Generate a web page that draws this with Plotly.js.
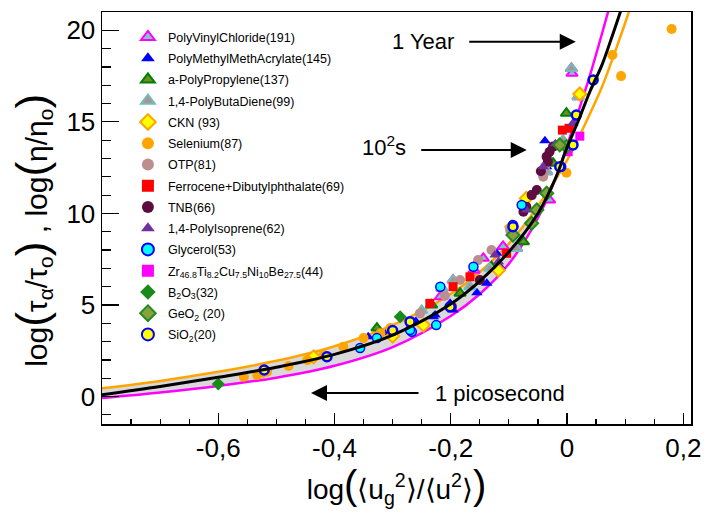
<!DOCTYPE html>
<html>
<head>
<meta charset="utf-8">
<script src="https://cdn.plot.ly/plotly-3.0.1.min.js"></script>
<style>html,body{margin:0;padding:0;background:#fff;}</style>
</head>
<body>
<div id="chart" style="width:705px;height:520px;"></div>
<script>
// ---- tick labels ----
const xTickVals = [-0.6, -0.4, -0.2, 0, 0.2];
const xTickText = ['-0,6', '-0,4', '-0,2', '0', '0,2'];

// ---- fitted curves ----
const blackX = [-0.80,-0.70,-0.60,-0.50,-0.40,-0.30,-0.20,-0.15,-0.10,-0.05,-0.02,0.00,0.02,0.04,0.06,0.08,0.095];
const blackY = [0.10,0.55,1.05,1.60,2.30,3.35,5.05,6.30,7.90,10.0,11.9,13.6,15.1,16.7,18.1,19.9,21.3];
const orangeX = [-0.80,-0.70,-0.60,-0.50,-0.40,-0.30,-0.20,-0.15,-0.10,-0.05,0.00,0.03,0.06,0.08,0.10,0.115];
const orangeY = [0.45,0.85,1.35,1.95,2.75,3.90,5.60,6.80,8.35,10.4,12.9,14.8,16.9,18.6,20.4,21.8];
const magX = [-0.80,-0.70,-0.60,-0.50,-0.40,-0.30,-0.20,-0.15,-0.10,-0.05,-0.02,0.00,0.02,0.04,0.06,0.075];
const magY = [-0.08,0.22,0.58,1.03,1.68,2.70,4.40,5.60,7.25,9.75,11.9,13.7,15.6,17.6,19.8,21.5];
// where the orange and magenta bounds cross (end of the grey band)
const crossX = -0.02;
const crossY = 11.9;

// ---- series ----
const pvcX = [-0.215,-0.196,-0.218,-0.144,-0.087,-0.035,-0.030,0.0075,0.0086,0.019,-0.160,-0.110];
const pvcY = [5.91,6.36,5.45,7.55,8.09,12.28,10.73,17.92,17.65,16.37,6.90,8.20];
const pmmaX = [-0.342,-0.230,-0.196,-0.227,-0.201,-0.155,-0.138,-0.121,-0.115,-0.035,-0.038,-0.310,-0.260];
const pmmaY = [3.27,4.36,4.72,4.45,5.09,5.67,6.18,7.82,7.09,12.55,13.97,3.50,4.10];
const appX = [-0.327,-0.233,-0.184,-0.075,-0.024,-0.0125,-0.001,-0.130];
const appY = [3.74,5.00,5.64,8.45,12.74,13.74,15.47,7.10];
const pbdX = [-0.133,-0.167,-0.007,-0.215,-0.196,-0.087,-0.035,0.0075,0.019,-0.250];
const pbdY = [7.00,6.00,14.00,5.91,6.36,8.09,12.28,17.92,16.37,4.70];
const cknX = [-0.522,-0.436,-0.247,-0.118,-0.095,-0.070,0.022,-0.300];
const cknY = [1.41,2.17,3.90,6.90,9.27,10.82,16.52,3.30];
const seX = [0.180,0.093,0.078,-0.001,-0.556,-0.533,-0.516,-0.479,-0.447,-0.419,-0.385,-0.350,-0.304,-0.321];
const seY = [20.07,17.50,18.65,12.22,1.08,1.17,1.35,1.67,1.99,2.27,2.72,3.19,3.74,3.46];
const otpX = [-0.041,-0.038,-0.035,-0.098,-0.130,-0.153,-0.184,-0.253,-0.210,-0.060];
const otpY = [12.00,12.55,13.10,9.09,8.00,7.45,6.36,4.54,5.50,11.00];
const ferX = [-0.008,0.0035,-0.196,-0.167,-0.104,-0.236];
const ferY = [14.55,14.65,6.00,6.54,7.82,5.09];
const tnbX = [-0.035,-0.030,-0.033,-0.052,-0.061,-0.070,-0.075,-0.150,-0.198,-0.024,-0.045];
const tnbY = [13.10,13.37,12.82,11.28,11.00,10.37,10.09,6.36,4.90,13.65,12.30];
const piX = [-0.041,0.010,-0.070,-0.118,-0.124,-0.020];
const piY = [12.55,14.92,10.19,7.36,7.73,13.80];
const glyX = [-0.078,-0.010,-0.093,-0.161,-0.218,-0.267,-0.356,-0.327,-0.270,-0.225];
const glyY = [10.46,12.55,9.37,7.09,6.00,3.54,2.65,3.19,3.63,3.90];
const zrX = [0.022,0.002];
const zrY = [14.22,13.37];
const b2o3X = [-0.600,-0.287];
const b2o3Y = [0.68,4.36];
const geoX = [-0.035,-0.052,-0.061,-0.093,-0.001,-0.0125];
const geoY = [11.10,10.19,9.46,8.82,13.65,13.74];
const sioX = [0.045,0.016,0.0103,-0.0125,-0.093,-0.201,-0.270,-0.413,-0.521,-0.300];
const sioY = [17.29,15.37,13.74,12.55,9.27,4.90,4.09,2.17,1.45,3.60];

const names = [
  'PolyVinylChloride(191)',
  'PolyMethylMethAcrylate(145)',
  'a-PolyPropylene(137)',
  '1,4-PolyButaDiene(99)',
  'CKN (93)',
  'Selenium(87)',
  'OTP(81)',
  'Ferrocene+Dibutylphthalate(69)',
  'TNB(66)',
  '1,4-PolyIsoprene(62)',
  'Glycerol(53)',
  'Zr<sub>46.8</sub>Ti<sub>8.2</sub>Cu<sub>7.5</sub>Ni<sub>10</sub>Be<sub>27.5</sub>(44)',
  'B<sub>2</sub>O<sub>3</sub>(32)',
  'GeO<sub>2</sub> (20)',
  'SiO<sub>2</sub>(20)'
];

function line(x, y, color, w, extra) {
  return Object.assign({x: x, y: y, mode: 'lines', type: 'scatter', showlegend: false,
    hoverinfo: 'skip', line: {color: color, width: w, shape: 'spline', smoothing: 1}}, extra || {});
}
function pts(i, x, y, symbol, fill, lc, lw, size) {
  return {x: x, y: y, name: names[i], legendgroup: 'g' + i, mode: 'markers', type: 'scatter',
    marker: {symbol: symbol, color: fill, size: size || 10, line: {color: lc, width: lw}}};
}
// grey band: both bounds up to their crossing point
function upTo(xs, ys) {
  const bx = [], by = [];
  xs.forEach((v, k) => { if (v < crossX) { bx.push(v); by.push(ys[k]); } });
  bx.push(crossX); by.push(crossY);
  return [bx, by];
}
const bandO = upTo(orangeX, orangeY);
const bandM = upTo(magX, magY);

const traces = [
  line(bandO[0], bandO[1], 'rgba(0,0,0,0)', 0),
  line(bandM[0], bandM[1], 'rgba(0,0,0,0)', 0, {fill: 'tonexty', fillcolor: '#d9d9d9'}),
  line(orangeX, orangeY, '#ffa500', 2.5),
  line(magX, magY, '#ff00ff', 2.5),
  pts(0, pvcX, pvcY, 'triangle-up', '#7cc8c8', '#ff00ff', 2, 10),
  pts(1, pmmaX, pmmaY, 'triangle-up', '#0000ff', '#0000ff', 0, 10),
  pts(2, appX, appY, 'triangle-up', '#6b8e23', '#008000', 2, 10),
  pts(3, pbdX, pbdY, 'triangle-up', '#b09090', '#72bcbc', 2, 10),
  pts(4, cknX, cknY, 'diamond', '#ffff00', '#ffa500', 2, 10),
  pts(5, seX, seY, 'circle', '#ffa500', '#ffa500', 0, 10),
  pts(6, otpX, otpY, 'circle', '#bc8f8f', '#bc8f8f', 0, 10),
  pts(7, ferX, ferY, 'square', '#ff0000', '#ff0000', 0, 9),
  pts(8, tnbX, tnbY, 'circle', '#5e0b3f', '#5e0b3f', 0, 10),
  pts(9, piX, piY, 'triangle-up', '#7030a0', '#7030a0', 0, 10),
  pts(10, glyX, glyY, 'circle', '#00ffff', '#0000ff', 1.5, 9),
  pts(11, zrX, zrY, 'square', '#ff00ff', '#ff00ff', 0, 9),
  pts(12, b2o3X, b2o3Y, 'diamond', '#1a8a1a', '#1a8a1a', 0, 10),
  pts(13, geoX, geoY, 'diamond', '#8aa03a', '#228b22', 2, 10),
  pts(14, sioX, sioY, 'circle', '#ffff00', '#0000ff', 2.5, 9),
  line(blackX, blackY, '#000000', 3)
];

const big = '<span style="font-size:44px">';
const layout = {
  width: 705, height: 520,
  margin: {l: 102, r: 14, t: 12, b: 96},
  paper_bgcolor: '#ffffff', plot_bgcolor: '#ffffff',
  font: {family: '"Liberation Sans", Arial, Helvetica, sans-serif', color: '#000000'},
  showlegend: true,
  legend: {x: 0.044, y: 0.975, xanchor: 'left', yanchor: 'top', bgcolor: 'rgba(0,0,0,0)',
    traceorder: 'grouped', font: {size: 12.5}, itemsizing: 'constant', tracegroupgap: 2},
  xaxis: {
    range: [-0.8, 0.2133], tickmode: 'array', tickvals: xTickVals, ticktext: xTickText,
    ticks: 'inside', ticklen: 11, tickwidth: 1.2, tickcolor: '#000',
    minor: {ticks: 'inside', ticklen: 5, tickwidth: 1.2, tickcolor: '#000', tickmode: 'linear', tick0: 0, dtick: 0.05},
    showline: true, linecolor: '#000', linewidth: 1.5, mirror: true,
    showgrid: false, zeroline: false, tickfont: {size: 26},
    title: {text: 'log<span style="font-size:40px">(</span>⟨u<sub>g</sub><sup>2</sup>⟩/⟨u<sup>2</sup>⟩<span style="font-size:40px">)</span>',
      font: {size: 28}, standoff: 14}
  },
  yaxis: {
    range: [-1.5, 21], tickmode: 'linear', tick0: 0, dtick: 5,
    ticks: 'inside', ticklen: 17, tickwidth: 1.2, tickcolor: '#000',
    minor: {ticks: 'inside', ticklen: 9, tickwidth: 1.2, tickcolor: '#000', tickmode: 'linear', tick0: 0, dtick: 1},
    showline: true, linecolor: '#000', linewidth: 1.5, mirror: true,
    showgrid: false, zeroline: false, tickfont: {size: 26}
  },
  annotations: [
    {xref: 'paper', yref: 'paper', x: -0.118, y: 0.47, xanchor: 'center', yanchor: 'middle',
      textangle: -90, showarrow: false, font: {size: 30},
      text: 'log' + big + '(</span>τ<sub>α</sub>/τ<sub>o</sub>' + big + ')</span> , log' + big + '(</span>η/η<sub>o</sub>' + big + ')</span>'},
    {x: 0.015, y: 19.38, xref: 'x', yref: 'y', text: '', showarrow: true,
      ax: -108, ay: 0, arrowhead: 2, arrowsize: 1.6, arrowwidth: 2, arrowcolor: '#000'},
    {x: -0.0693, y: 13.46, xref: 'x', yref: 'y', text: '', showarrow: true,
      ax: -107, ay: 0, arrowhead: 2, arrowsize: 1.6, arrowwidth: 2, arrowcolor: '#000'},
    {x: -0.4404, y: 0.19, xref: 'x', yref: 'y', text: '', showarrow: true,
      ax: 109, ay: 0, arrowhead: 2, arrowsize: 1.6, arrowwidth: 2, arrowcolor: '#000'},
    {x: -0.247, y: 19.38, xref: 'x', yref: 'y', text: '1 Year', showarrow: false, font: {size: 22}},
    {x: -0.315, y: 13.7, xref: 'x', yref: 'y', text: '10<sup>2</sup>s', showarrow: false, font: {size: 22}},
    {x: -0.115, y: 0.19, xref: 'x', yref: 'y', text: '1 picosecond', showarrow: false, font: {size: 22}}
  ]
};

Plotly.newPlot('chart', traces, layout, {displayModeBar: false, staticPlot: true});
</script>
</body>
</html>
